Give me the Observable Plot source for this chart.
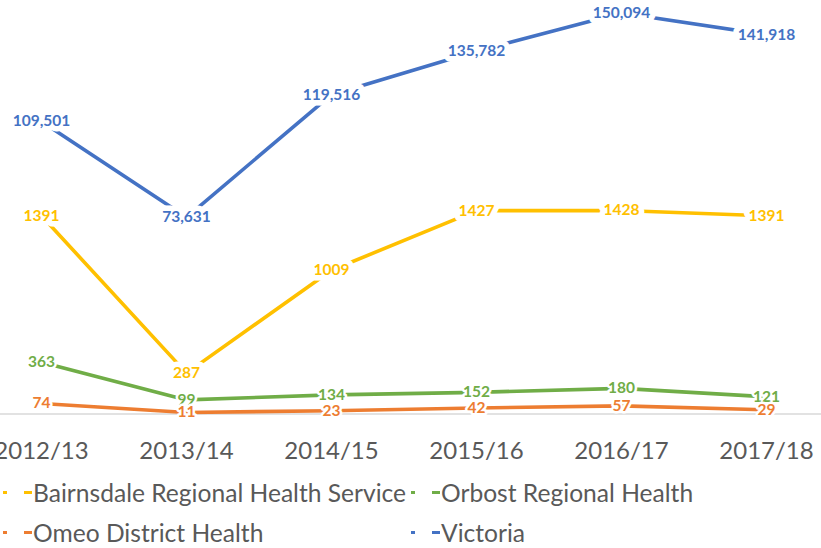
<!DOCTYPE html>
<html>
<head>
<meta charset="utf-8">
<script src="https://cdn.jsdelivr.net/npm/d3@7"></script>
<script src="https://cdn.jsdelivr.net/npm/@observablehq/plot@0.6"></script>
<style>
  html, body { margin: 0; padding: 0; background: #fff; overflow: hidden; }
  #wrap { position: relative; width: 821px; height: 548px; font-family: Lato, "Open Sans", sans-serif; }
  #chart { position: absolute; left: 0; top: 0; }
  .leg { position: absolute; height: 30px; display: flex; align-items: center; color: #595959; font-size: 24.6px; white-space: nowrap; }
  .leg .d1, .leg .d2 { position: absolute; height: 3px; top: 13px; }
  .leg .d1 { left: 0; width: 4px; }
  .leg .d2 { left: 21px; width: 8px; }
  .leg .t { position: absolute; left: 30px; line-height: 30px; top: 0; }
</style>
</head>
<body>
<div id="wrap"><div id="chart"></div></div>
<script>
const years = ["2012/13", "2013/14", "2014/15", "2015/16", "2016/17", "2017/18"];
const bairnsdale = [1391, 287, 1009, 1427, 1428, 1391];
const orbost = [363, 99, 134, 152, 180, 121];
const omeo = [74, 11, 23, 42, 57, 29];
const victoria = [109501, 73631, 119516, 135782, 150094, 141918];

const seriesNames = ["Bairnsdale Regional Health Service", "Orbost Regional Health", "Omeo District Health", "Victoria"];
const seriesColors = ["#FFC000", "#70AD47", "#ED7D31", "#4472C4"];

// primary axis 0–3000, secondary (Victoria) axis 0–160000
const primaryMax = 3000, secondaryMax = 160000;

const rows = [];
[bairnsdale, orbost, omeo, victoria].forEach((arr, i) => {
  arr.forEach((v, j) => rows.push({
    series: seriesNames[i],
    year: years[j],
    value: v,
    y: i === 3 ? v * primaryMax / secondaryMax : v,
    label: i === 3 ? d3.format(",")(v) : String(v)
  }));
});

const colorScale = {domain: seriesNames, range: seriesColors};

const chart = Plot.plot({
  width: 821,
  height: 470,
  marginLeft: 0,
  marginRight: 0,
  marginTop: 0,
  marginBottom: 56,
  style: {fontFamily: "Lato, 'Open Sans', sans-serif", overflow: "visible"},
  x: {type: "point", domain: years, range: [39, 768], padding: 0, label: null},
  y: {domain: [0, primaryMax], range: [413.5, -14], axis: null},
  color: colorScale,
  marks: [
    Plot.ruleY([0], {stroke: "#D9D9D9", strokeWidth: 1.3}),
    Plot.axisX({tickSize: 0, tickPadding: 27, fontSize: 24, fill: "#595959", label: null}),
    Plot.line(rows, {x: "year", y: "y", z: "series", stroke: "series", strokeWidth: 3.6, strokeLinejoin: "round", strokeLinecap: "butt"}),
    ...[0, 1, 2, 3].map(i => Plot.text(rows.filter(r => r.series === seriesNames[i]), {
      x: "year", y: "y", text: "label", fill: seriesColors[i],
      stroke: "white", strokeWidth: i === 0 || i === 3 ? 11 : 5, strokeLinejoin: "round",
      fontWeight: "bold", fontSize: 15.5
    }))
  ]
});
document.getElementById("chart").appendChild(chart);

const legendItems = [
  {name: seriesNames[0], color: seriesColors[0], left: 3, top: 478},
  {name: seriesNames[1], color: seriesColors[1], left: 411, top: 478},
  {name: seriesNames[2], color: seriesColors[2], left: 3, top: 518},
  {name: seriesNames[3], color: seriesColors[3], left: 411, top: 518}
];
const wrap = document.getElementById("wrap");
legendItems.forEach(it => {
  const el = document.createElement("div");
  el.className = "leg";
  el.style.left = it.left + "px";
  el.style.top = it.top + "px";
  el.innerHTML = `<span class="d1" style="background:${it.color}"></span><span class="d2" style="background:${it.color}"></span><span class="t">${it.name}</span>`;
  wrap.appendChild(el);
});
</script>
</body>
</html>
